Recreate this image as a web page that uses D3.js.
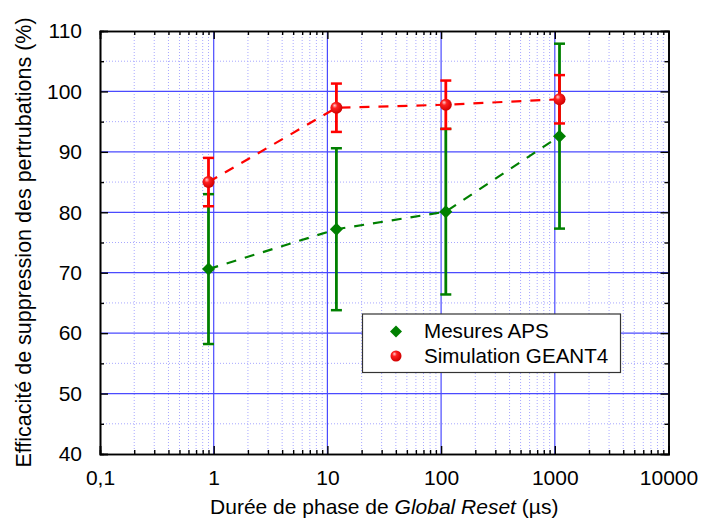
<!DOCTYPE html>
<html>
<head>
<meta charset="utf-8">
<script src="https://cdn.jsdelivr.net/npm/d3@7"></script>
<style>
  body { margin: 0; background: #fff; }
  svg { font-family: "Liberation Sans", Arial, sans-serif; }
</style>
</head>
<body>
<div id="chart"></div>
<script>
// durations of the global reset phase (µs)
const durations = [0.9, 12, 110, 1100];
// measured APS efficiency (%) and its error
const apsValues = [70.6, 77.2, 80.1, 92.6];
const apsErrors = [12.4, 13.4, 13.7, 15.3];
// GEANT4 simulation (%) and its error
const geantValues = [85.0, 97.3, 97.8, 98.7];
const geantErrors = [4.0, 4.0, 4.0, 4.0];

const xTickValues = [0.1, 1, 10, 100, 1000, 10000];
const xTickLabels = ["0,1", "1", "10", "100", "1000", "10000"];
const yTickValues = [40, 50, 60, 70, 80, 90, 100, 110];
const yMinorValues = [45, 55, 65, 75, 85, 95, 105];
const seriesNames = ["Mesures APS", "Simulation GEANT4"];

const width = 704, height = 530;
const margin = {top: 31, right: 35.5, bottom: 76, left: 100};

const svg = d3.select("#chart").append("svg")
    .attr("width", width)
    .attr("height", height);

const defs = svg.append("defs");
const grad = defs.append("radialGradient")
    .attr("id", "ball")
    .attr("cx", "40%").attr("cy", "40%").attr("r", "60%")
    .attr("fx", "35%").attr("fy", "30%");
grad.append("stop").attr("offset", "0%").attr("stop-color", "#ffd0d0");
grad.append("stop").attr("offset", "35%").attr("stop-color", "#ff2020");
grad.append("stop").attr("offset", "100%").attr("stop-color", "#d00000");

const x = d3.scaleLog()
    .domain([0.1, 10000])
    .range([margin.left, width - margin.right]);

const y = d3.scaleLinear()
    .domain([40, 110])
    .range([height - margin.bottom, margin.top]);

const x0 = x.range()[0], x1 = x.range()[1];
const y0 = y.range()[0], y1 = y.range()[1];

// minor x positions (2..9 per decade)
const xMinor = [];
for (let d = 0.1; d < 10000; d *= 10) {
    for (let k = 2; k <= 9; k++) xMinor.push(+(d * k).toPrecision(3));
}
const xMajorInner = xTickValues.slice(1, -1);
const yMajorInner = yTickValues.slice(1, -1);

// grid
const grid = svg.append("g").attr("class", "grid");
grid.selectAll(".xminor").data(xMinor).join("line")
    .attr("x1", d => x(d)).attr("x2", d => x(d))
    .attr("y1", y1).attr("y2", y0)
    .attr("stroke", "#a8a8ff").attr("stroke-width", 1)
    .attr("stroke-dasharray", "1,2");
grid.selectAll(".yminor").data(yMinorValues).join("line")
    .attr("x1", x0).attr("x2", x1)
    .attr("y1", d => y(d)).attr("y2", d => y(d))
    .attr("stroke", "#a8a8ff").attr("stroke-width", 1)
    .attr("stroke-dasharray", "1,2");
grid.selectAll(".xmajor").data(xMajorInner).join("line")
    .attr("x1", d => x(d)).attr("x2", d => x(d))
    .attr("y1", y1).attr("y2", y0)
    .attr("stroke", "#4a4aff").attr("stroke-width", 1.2);
grid.selectAll(".ymajor").data(yMajorInner).join("line")
    .attr("x1", x0).attr("x2", x1)
    .attr("y1", d => y(d)).attr("y2", d => y(d))
    .attr("stroke", "#4a4aff").attr("stroke-width", 1.2);

// axes with inside ticks on all four sides
function drawAxes() {
    const ax = svg.append("g").attr("class", "axes");
    const bottom = d3.axisBottom(x).tickValues(xTickValues)
        .tickFormat((d, i) => xTickLabels[i]).tickSize(-8).tickPadding(16);
    ax.append("g").attr("transform", `translate(0,${y0})`).call(bottom);
    ax.append("g").attr("transform", `translate(0,${y0})`)
        .call(d3.axisBottom(x).tickValues(xMinor).tickFormat("").tickSize(-4));
    ax.append("g").attr("transform", `translate(0,${y1})`)
        .call(d3.axisTop(x).tickValues(xTickValues).tickFormat("").tickSize(-8));
    ax.append("g").attr("transform", `translate(0,${y1})`)
        .call(d3.axisTop(x).tickValues(xMinor).tickFormat("").tickSize(-4));

    ax.append("g").attr("transform", `translate(${x0},0)`)
        .call(d3.axisLeft(y).tickValues(yTickValues).tickSize(-8).tickPadding(18));
    ax.append("g").attr("transform", `translate(${x0},0)`)
        .call(d3.axisLeft(y).tickValues(yMinorValues).tickFormat("").tickSize(-4));
    ax.append("g").attr("transform", `translate(${x1},0)`)
        .call(d3.axisRight(y).tickValues(yTickValues).tickFormat("").tickSize(-8));
    ax.append("g").attr("transform", `translate(${x1},0)`)
        .call(d3.axisRight(y).tickValues(yMinorValues).tickFormat("").tickSize(-4));

    ax.selectAll(".domain").attr("stroke", "#000").attr("stroke-width", 1.6);
    ax.selectAll(".tick line").attr("stroke", "#000").attr("stroke-width", 1.4);
    ax.selectAll(".tick text")
        .attr("font-family", "'Liberation Sans', Arial, sans-serif")
        .attr("font-size", 21).attr("fill", "#000");
}

// a series: error bars, dashed line, markers
function drawSeries(values, errors, color, marker) {
    const g = svg.append("g");
    const pts = durations.map((d, i) => ({x: d, v: values[i], e: errors[i]}));

    g.selectAll(".bar").data(pts).join("line")
        .attr("x1", d => x(d.x)).attr("x2", d => x(d.x))
        .attr("y1", d => y(d.v - d.e)).attr("y2", d => y(d.v + d.e))
        .attr("stroke", color).attr("stroke-width", 2.8);
    g.selectAll(".capTop").data(pts).join("line")
        .attr("x1", d => x(d.x) - 5.5).attr("x2", d => x(d.x) + 5.5)
        .attr("y1", d => y(d.v + d.e)).attr("y2", d => y(d.v + d.e))
        .attr("stroke", color).attr("stroke-width", 2.5);
    g.selectAll(".capBot").data(pts).join("line")
        .attr("x1", d => x(d.x) - 5.5).attr("x2", d => x(d.x) + 5.5)
        .attr("y1", d => y(d.v - d.e)).attr("y2", d => y(d.v - d.e))
        .attr("stroke", color).attr("stroke-width", 2.5);

    const line = d3.line().x(d => x(d.x)).y(d => y(d.v));
    g.append("path").datum(pts)
        .attr("d", line)
        .attr("fill", "none")
        .attr("stroke", color)
        .attr("stroke-width", 2.2)
        .attr("stroke-dasharray", "10,9");

    if (marker === "diamond") {
        g.selectAll(".m").data(pts).join("path")
            .attr("transform", d => `translate(${x(d.x)},${y(d.v)})`)
            .attr("d", "M0,-6.5L6.5,0L0,6.5L-6.5,0Z")
            .attr("fill", color);
    } else {
        g.selectAll(".m").data(pts).join("circle")
            .attr("cx", d => x(d.x)).attr("cy", d => y(d.v))
            .attr("r", 6)
            .attr("fill", "url(#ball)");
    }
}

drawSeries(apsValues, apsErrors, "#008000", "diamond");
drawSeries(geantValues, geantErrors, "#ff0000", "ball");
drawAxes();

// legend
const legend = svg.append("g").attr("transform", "translate(362.5,314)");
legend.append("rect")
    .attr("width", 258).attr("height", 58.5)
    .attr("fill", "#fff").attr("stroke", "#333").attr("stroke-width", 1.2);
legend.append("path")
    .attr("transform", "translate(33.5,17.5)")
    .attr("d", "M0,-6L6,0L0,6L-6,0Z")
    .attr("fill", "#008000");
legend.append("circle")
    .attr("cx", 33.5).attr("cy", 42).attr("r", 5.5)
    .attr("fill", "url(#ball)");
legend.selectAll(".lt").data(seriesNames).join("text")
    .attr("x", 61.5)
    .attr("y", (d, i) => 24 + i * 25)
    .attr("font-size", 20.6)
    .attr("fill", "#000")
    .text(d => d);

// axis titles
const xt = svg.append("text")
    .attr("x", (x0 + x1) / 2)
    .attr("y", 514)
    .attr("text-anchor", "middle")
    .attr("font-size", 21)
    .attr("fill", "#000");
xt.append("tspan").text("Durée de phase de ");
xt.append("tspan").attr("font-style", "italic").text("Global Reset");
xt.append("tspan").text(" (µs)");

svg.append("text")
    .attr("transform", `translate(31,${(y0 + y1) / 2}) rotate(-90)`)
    .attr("text-anchor", "middle")
    .attr("font-size", 21.5)
    .attr("fill", "#000")
    .text("Efficacité de suppression des pertrubations (%)");
</script>
</body>
</html>
